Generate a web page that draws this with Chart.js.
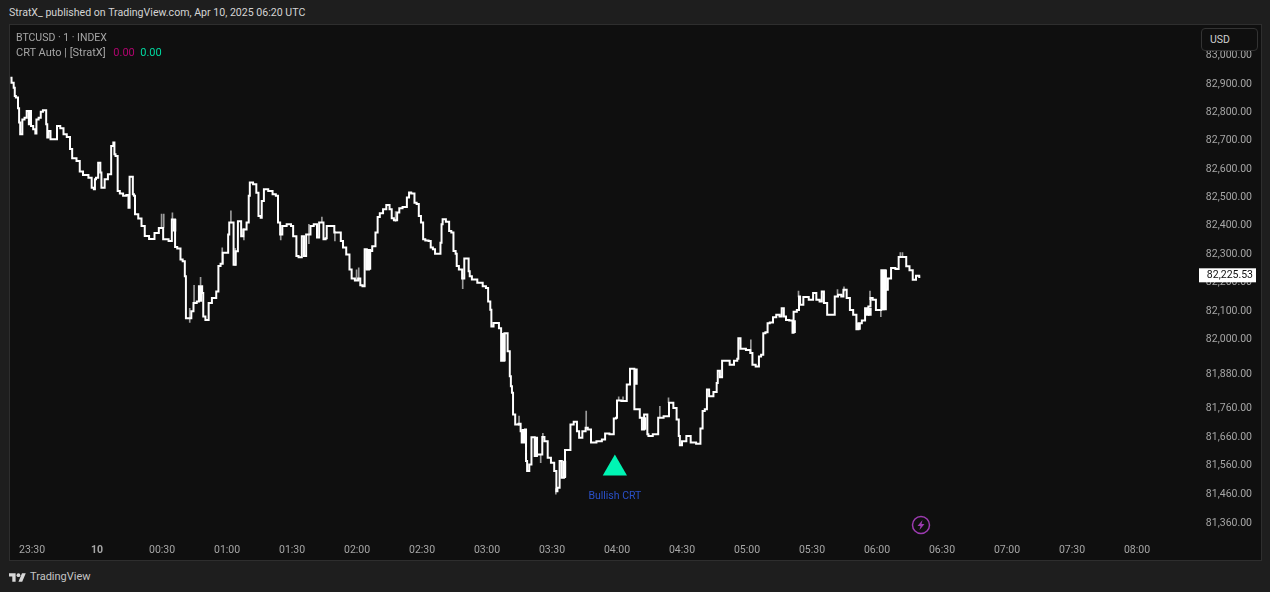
<!DOCTYPE html>
<html>
<head>
<meta charset="utf-8">
<title>BTCUSD</title>
<script src="https://cdn.jsdelivr.net/npm/chart.js@4"></script>
<style>
    html, body { margin: 0; padding: 0; background: #1e1e1e; width: 1270px; height: 592px; overflow: hidden; font-family: Roboto, sans-serif; }
    #panel { position: absolute; left: 9px; top: 24px; width: 1251px; height: 535px; background: #0f0f0f; border: 1px solid #2e2e2e; }
    #chart_box { position: absolute; left: 0; top: 0; width: 1251px; height: 535px; }
    .txt { position: absolute; white-space: nowrap; font-size: 10.5px; color: #a6a6a6; line-height: 14px; }
    #title { left: 9px; top: 6px; color: #d4d4d4; font-size: 10.6px; }
    #symbol { left: 16px; top: 31px; }
    #indicator { left: 16px; top: 46px; font-size: 11px; }
    #usd { position: absolute; left: 1201px; top: 28px; width: 55px; height: 21px; border: 1px solid #333; border-radius: 4px; background: #0f0f0f; color: #d0d0d0; font-size: 10.5px; line-height: 21px; text-indent: 8px; }
    #brand { left: 30px; top: 570px; color: #c4c4c4; font-size: 11px; }
    #logo { position: absolute; left: 9px; top: 571px; }
    #bolt { position: absolute; left: 911px; top: 515px; }
</style>
</head>
<body>
<div id="panel"><div id="chart_box"><canvas id="price_chart" width="1251" height="535"></canvas></div></div>
<div class="txt" id="title">StratX_ published on TradingView.com, Apr 10, 2025 06:20 UTC</div>
<div class="txt" id="symbol">BTCUSD · 1 · INDEX</div>
<div class="txt" id="indicator">CRT Auto | [StratX] &nbsp;&thinsp;<span style="color:#b0056f">0.00</span>&nbsp; <span style="color:#00d9a0">0.00</span></div>
<div id="usd">USD</div>
<svg id="logo" width="17" height="13" viewBox="0 0 36 26"><path fill="#d8d8d8" d="M14 22H7V11H0V4h14v18zM28 22h-8l7.5-18h8L28 22z"/><circle fill="#d8d8d8" cx="20" cy="8" r="4"/></svg>
<div class="txt" id="brand">TradingView</div>
<svg id="bolt" width="20" height="20" viewBox="0 0 20 20"><circle cx="10" cy="10" r="8.5" fill="none" stroke="#9c3bb0" stroke-width="1.5"/><path fill="#9c3bb0" d="M11.5 5 6.5 11h3l-1 4 5-6h-3z"/></svg>

<script>
// Path of the price, minutes from midnight Apr 10 (negative = Apr 9)
const times = [
    -40, -39, -38, -38, -37, -36, -36, -35, -34, -33,
    -32, -31, -31, -30, -29, -28, -28, -26, -26, -24,
    -23, -23, -22, -21, -19, -18, -16, -15, -13, -12,
    -11, -8, -8, -5, -3, -2, -1, -1, 0, 1,
    2, 2, 3, 4, 6, 7, 8, 8, 9, 10,
    11, 13, 14, 15, 15, 16, 17, 17, 18, 20,
    21, 23, 25, 28, 29, 32, 34, 35, 36, 36,
    38, 39, 40, 41, 41, 43, 44, 45, 47, 47,
    48, 49, 49, 51, 52, 54, 56, 56, 58, 58,
    60, 61, 61, 63, 63, 65, 65, 66, 67, 68,
    70, 70, 71, 73, 74, 75, 76, 76, 78, 80,
    82, 83, 84, 85, 86, 89, 90, 91, 92, 92,
    94, 95, 96, 97, 98, 99, 101, 102, 103, 104,
    105, 106, 106, 109, 110, 112, 113, 114, 116, 117,
    118, 120, 121, 122, 123, 124, 125, 126, 128, 129,
    130, 131, 133, 134, 136, 136, 138, 139, 140, 142,
    144, 144, 146, 147, 148, 149, 150, 151, 152, 154,
    154, 156, 156, 158, 159, 159, 160, 162, 163, 164,
    165, 166, 166, 168, 169, 170, 171, 172, 172, 174,
    177, 179, 180, 181, 182, 182, 184, 185, 186, 187,
    188, 188, 189, 190, 191, 191, 192, 192, 194, 195,
    196, 196, 197, 198, 198, 199, 200, 201, 202, 202,
    204, 205, 206, 207, 209, 210, 212, 212, 213, 214,
    215, 216, 216, 218, 219, 221, 222, 223, 225, 226,
    227, 229, 232, 234, 235, 238, 239, 240, 240, 244,
    245, 246, 246, 248, 248, 248, 250, 251, 252, 253,
    254, 254, 255, 258, 260, 263, 265, 267, 268, 269,
    269, 271, 273, 275, 278, 279, 280, 281, 282, 283,
    286, 286, 287, 288, 289, 291, 293, 295, 296, 296,
    298, 301, 302, 303, 305, 306, 307, 308, 309, 310,
    311, 313, 314, 316, 316, 318, 318, 321, 321, 322,
    324, 324, 325, 327, 330, 331, 333, 334, 335, 336,
    338, 340, 341, 343, 344, 345, 347, 348, 350, 351,
    352, 354, 355, 357, 357, 359, 360, 362, 362, 364,
    364, 366, 367, 370, 370, 373, 374, 376, 377, 379,
    380
];
const closes = [
    82922, 82905, 82887, 82858, 82852, 82814, 82764, 82722, 82775, 82781,
    82805, 82758, 82805, 82752, 82740, 82725, 82775, 82781, 82802, 82807,
    82758, 82711, 82734, 82705, 82705, 82752, 82744, 82722, 82713, 82670,
    82638, 82628, 82591, 82579, 82569, 82534, 82528, 82564, 82569, 82622,
    82587, 82534, 82534, 82564, 82581, 82681, 82693, 82652, 82646, 82522,
    82513, 82505, 82508, 82463, 82572, 82572, 82511, 82505, 82440, 82425,
    82399, 82364, 82353, 82374, 82392, 82352, 82346, 82422, 82422, 82325,
    82320, 82281, 82275, 82222, 82075, 82075, 82099, 82128, 82134, 82187,
    82187, 82163, 82081, 82069, 82128, 82146, 82169, 82258, 82266, 82305,
    82305, 82369, 82411, 82411, 82263, 82310, 82416, 82416, 82363, 82387,
    82411, 82505, 82552, 82546, 82516, 82434, 82428, 82487, 82528, 82522,
    82511, 82505, 82411, 82369, 82399, 82405, 82399, 82363, 82363, 82293,
    82289, 82363, 82293, 82369, 82369, 82399, 82405, 82358, 82411, 82411,
    82352, 82356, 82399, 82399, 82376, 82376, 82346, 82323, 82299, 82246,
    82214, 82207, 82214, 82191, 82187, 82317, 82246, 82311, 82328, 82376,
    82431, 82444, 82458, 82473, 82458, 82426, 82419, 82446, 82461, 82466,
    82499, 82517, 82513, 82481, 82476, 82434, 82411, 82352, 82348, 82346,
    82323, 82317, 82301, 82301, 82340, 82405, 82423, 82414, 82381, 82376,
    82311, 82301, 82258, 82246, 82214, 82285, 82285, 82240, 82222, 82211,
    82199, 82187, 82181, 82134, 82105, 82046, 82058, 82058, 82040, 81926,
    81926, 82022, 82022, 81959, 81872, 81837, 81814, 81738, 81703, 81706,
    81680, 81640, 81640, 81686, 81576, 81541, 81564, 81659, 81659, 81593,
    81599, 81599, 81660, 81645, 81587, 81570, 81541, 81471, 81483, 81576,
    81518, 81520, 81614, 81614, 81703, 81713, 81680, 81657, 81680, 81692,
    81686, 81640, 81645, 81651, 81672, 81669, 81724, 81727, 81787, 81785,
    81843, 81843, 81898, 81898, 81843, 81756, 81756, 81727, 81686, 81738,
    81738, 81669, 81663, 81669, 81727, 81732, 81779, 81761, 81721, 81663,
    81631, 81645, 81663, 81640, 81636, 81689, 81750, 81756, 81825, 81802,
    81817, 81848, 81891, 81868, 81926, 81926, 81912, 81926, 81933, 82005,
    81968, 81964, 81953, 81912, 81906, 81941, 81947, 82022, 82026, 82057,
    82060, 82078, 82087, 82081, 82110, 82081, 82069, 82067, 82024, 82098,
    82104, 82151, 82122, 82149, 82140, 82163, 82140, 82134, 82169, 82128,
    82087, 82087, 82151, 82157, 82151, 82175, 82146, 82104, 82087, 82036,
    82057, 82067, 82110, 82116, 82146, 82140, 82104, 82104, 82243, 82243,
    82175, 82214, 82251, 82248, 82290, 82290, 82257, 82243, 82210, 82224,
    82220
];

// Thin wicks that stick out of the path
const wickTimes = [30, 31, 35, 43, 45, 48, 58, 62, 64, 68, 85, 98, 104, 110, 120, 121, 138, 169, 195, 205, 206, 212, 226, 241, 243, 260, 264, 302, 324, 342, 345, 357, 362, 371, 372];
const wickLows = [82395, 82395, 82420, 82060, 82130, 82190, 82270, 82410, 82260, 82350, 82350, 82337, 82411, 82346, 82207, 82207, 82415, 82179, 81700, 81570, 81660, 81460, 81690, 81787, 81787, 81727, 81779, 81953, 82150, 82150, 82170, 82140, 82080, 82290, 82290];
const wickHighs = [82441, 82441, 82445, 82110, 82190, 82218, 82322, 82452, 82320, 82390, 82400, 82405, 82430, 82380, 82245, 82252, 82450, 82230, 81733, 81600, 81672, 81480, 81750, 81800, 81800, 81767, 81796, 81999, 82170, 82175, 82185, 82170, 82104, 82305, 82305];

// Wide candle bodies
const bodyTimes = [35, 47, 124, 125, 187, 196, 202, 215, 248, 252, 321, 351, 355, 356, 362, 363];
const bodyLows = [82381, 82134, 82246, 82246, 81926, 81640, 81593, 81520, 81843, 81686, 82024, 82036, 82085, 82085, 82104, 82104];
const bodyHighs = [82422, 82187, 82317, 82317, 82022, 81686, 81659, 81576, 81898, 81727, 82067, 82057, 82110, 82110, 82243, 82243];

// Bullish CRT marker
const markerTimes = [239];
const markerPrices = [81550];
const markerLabel = 'Bullish CRT';

const lastPrice = 82225.53;

const priceTicks = [83000, 82900, 82800, 82700, 82600, 82500, 82400, 82300, 82200, 82100, 82000, 81880, 81760, 81660, 81560, 81460, 81360];
const timeTicks = [-30, 0, 30, 60, 90, 120, 150, 180, 210, 240, 270, 300, 330, 360, 390, 420, 450, 480];
const timeLabels = ['23:30', '10', '00:30', '01:00', '01:30', '02:00', '02:30', '03:00', '03:30', '04:00', '04:30', '05:00', '05:30', '06:00', '06:30', '07:00', '07:30', '08:00'];

function formatPrice(v){
    return v.toLocaleString('en-US', {minimumFractionDigits: 2, maximumFractionDigits: 2});
}

// Last price tag and marker text go through the scales
const overlayPlugin = {
    id: 'overlay',
    afterDraw(chart){
        const ctx = chart.ctx;
        const x_scale = chart.scales.x;
        const y_scale = chart.scales.y;

        ctx.save();
        ctx.font = '10.5px Roboto';
        ctx.fillStyle = '#2a50c8';
        ctx.textAlign = 'center';
        ctx.textBaseline = 'middle';
        ctx.fillText(markerLabel, x_scale.getPixelForValue(markerTimes[0]), y_scale.getPixelForValue(markerPrices[0]) + 28);

        const tag_y = y_scale.getPixelForValue(lastPrice);
        ctx.fillStyle = '#ffffff';
        ctx.fillRect(x_scale.right - 1, tag_y - 7, 57, 14);
        ctx.fillStyle = '#111111';
        ctx.font = '10.5px Roboto';
        ctx.textAlign = 'right';
        ctx.fillText(formatPrice(lastPrice), x_scale.right + 53, tag_y);
        ctx.restore();
    }
};

new Chart(document.getElementById('price_chart').getContext('2d'), {
    data: {
        datasets: [
            {
                type: 'line',
                data: times.map((t, i) => ({x: t, y: closes[i]})),
                borderColor: '#ffffff',
                borderWidth: 2,
                pointRadius: 0,
                stepped: 'middle'
            },
            {
                type: 'bar',
                data: wickTimes.map((t, i) => ({x: t, y: [wickLows[i], wickHighs[i]]})),
                backgroundColor: '#9a9a9a',
                barThickness: 1
            },
            {
                type: 'bar',
                data: bodyTimes.map((t, i) => ({x: t, y: [bodyLows[i], bodyHighs[i]]})),
                backgroundColor: '#ffffff',
                barThickness: 3
            },
            {
                type: 'line',
                data: markerTimes.map((t, i) => ({x: t, y: markerPrices[i]})),
                showLine: false,
                pointStyle: 'triangle',
                pointRadius: 14,
                pointBackgroundColor: '#00f5b4',
                pointBorderWidth: 0
            }
        ]
    },
    options: {
        responsive: false,
        animation: false,
        layout: {autoPadding: false, padding: {right: 9}},
        plugins: {legend: {display: false}, tooltip: {enabled: false}},
        scales: {
            x: {
                type: 'linear',
                min: -40.2,
                max: 509.1,
                offset: false,
                grid: {display: false},
                border: {display: false},
                afterBuildTicks(scale){
                    scale.ticks = timeTicks.map(v => ({value: v}));
                },
                afterFit(scale){
                    scale.height = 24;
                },
                ticks: {
                    autoSkip: false,
                    maxRotation: 0,
                    color: '#a6a6a6',
                    padding: 0,
                    font: ctx => ({family: 'Roboto', size: 10.5, weight: ctx.tick && ctx.tick.value === 0 ? 'bold' : 'normal'}),
                    callback: value => timeLabels[timeTicks.indexOf(value)]
                }
            },
            y: {
                type: 'logarithmic',
                position: 'right',
                min: 81315,
                max: 83087,
                grid: {display: false},
                border: {display: false},
                afterBuildTicks(scale){
                    scale.ticks = priceTicks.map(v => ({value: v}));
                },
                afterFit(scale){
                    scale.width = 52;
                },
                ticks: {
                    autoSkip: false,
                    crossAlign: 'far',
                    color: '#a6a6a6',
                    padding: 0,
                    font: {family: 'Roboto', size: 10.5},
                    callback: value => formatPrice(value)
                }
            }
        }
    },
    plugins: [overlayPlugin]
});
</script>
</body>
</html>
